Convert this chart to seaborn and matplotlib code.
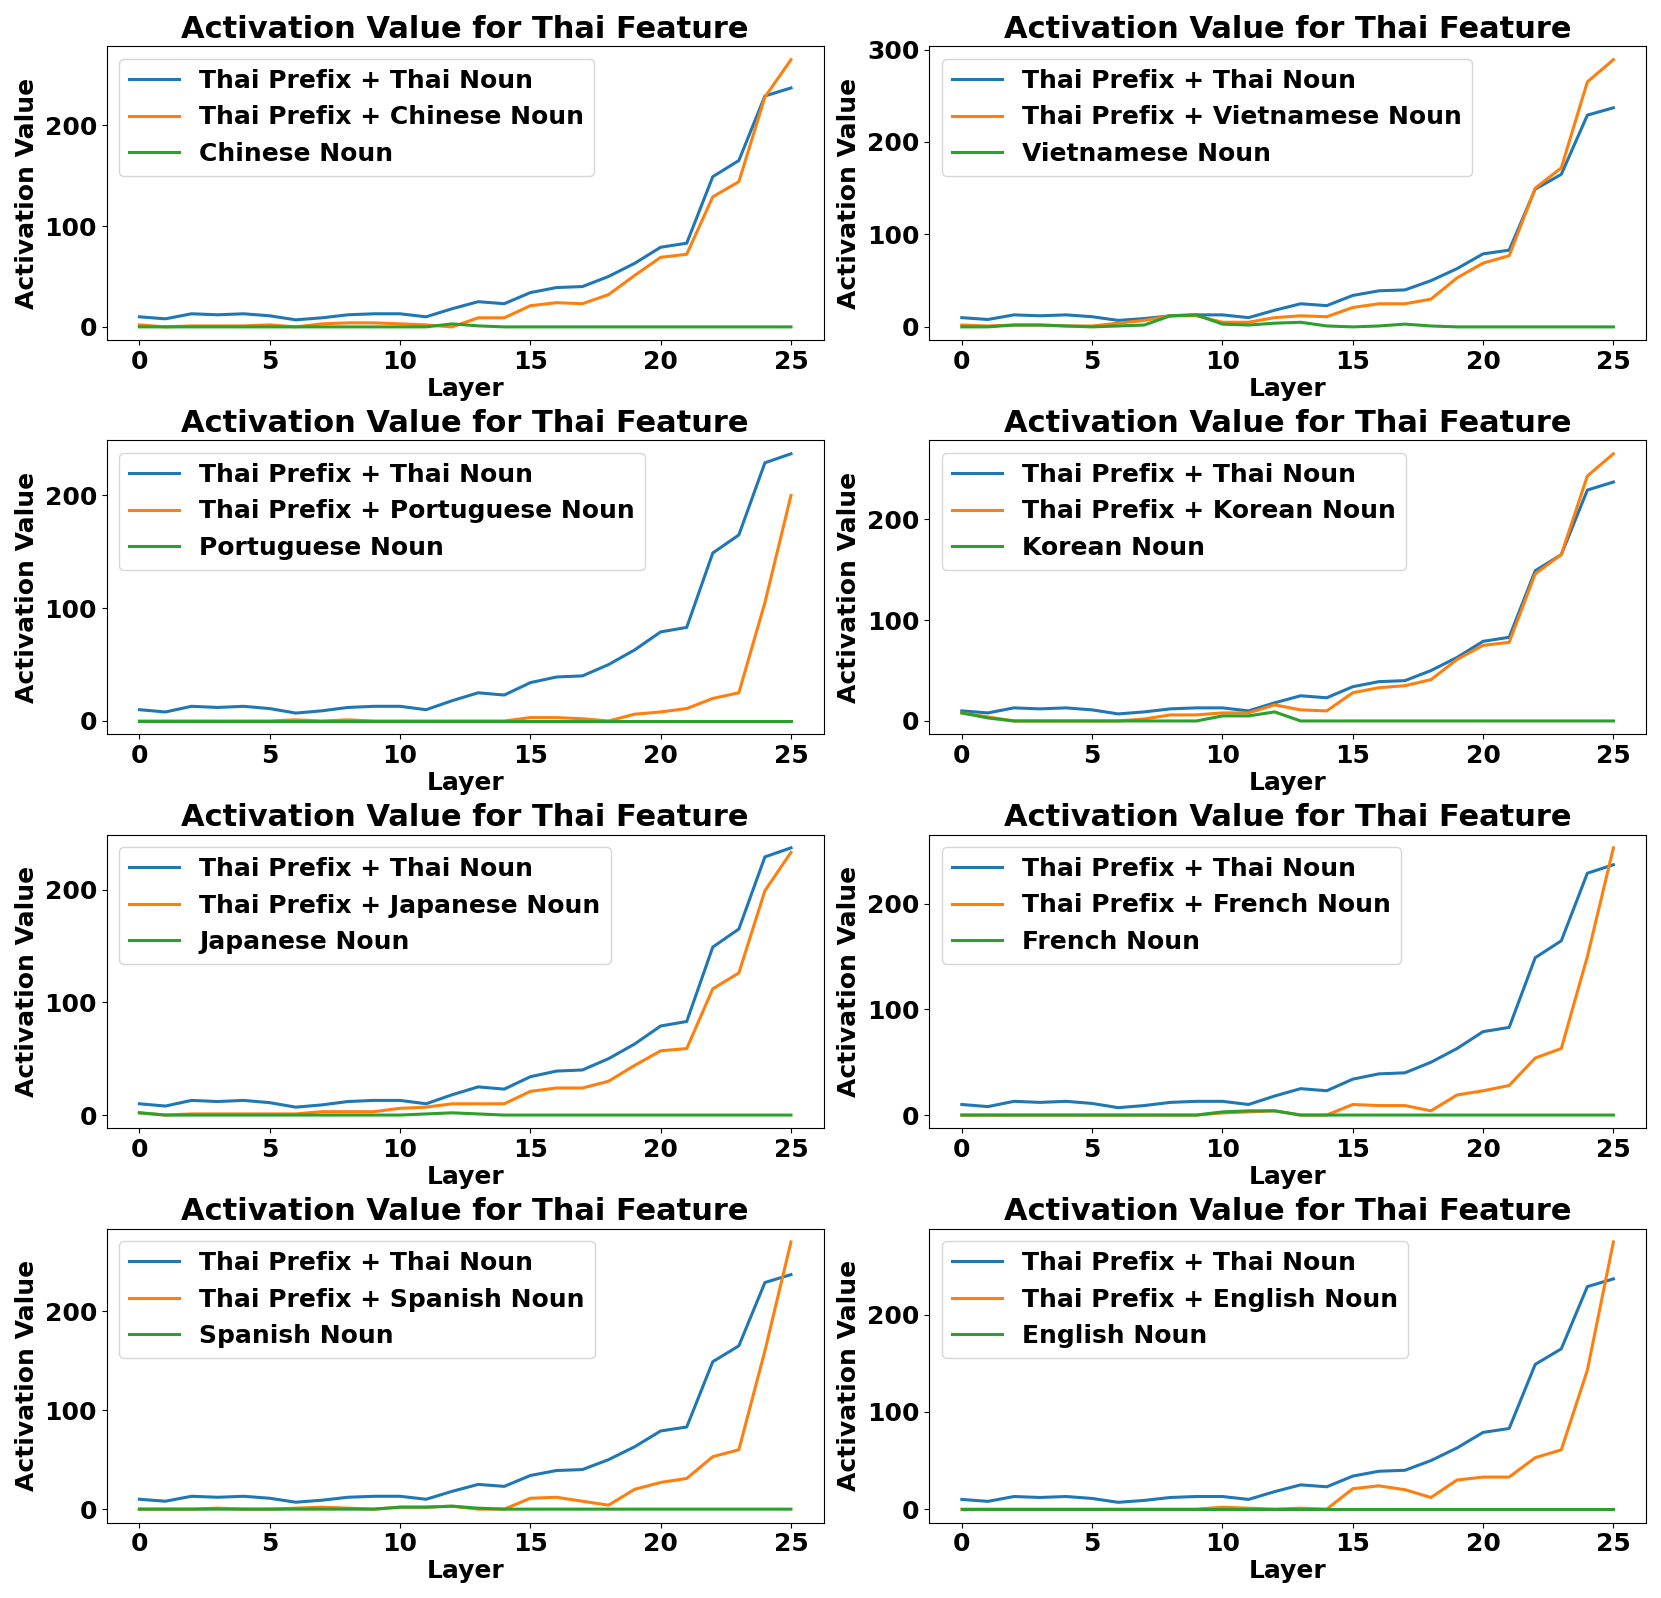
import numpy as np
import pandas as pd
import seaborn as sns
import matplotlib.pyplot as plt

# ============================================================
# DATA
# ============================================================

layers = list(range(26))

thai_noun = [10, 8, 13, 12, 13, 11, 7, 9, 12, 13, 13, 10, 18, 25, 23, 34,
             39, 40, 50, 63, 79, 83, 149, 165, 229, 237]

languages = ["Chinese", "Vietnamese", "Portuguese", "Korean",
             "Japanese", "French", "Spanish", "English"]

prefix_chinese = [2, 0, 1, 1, 1, 2, 0, 3, 4, 4, 3, 2, 0, 9, 9, 21,
                  24, 23, 32, 51, 69, 72, 129, 144, 228, 265]
noun_chinese = [0, 0, 0, 0, 0, 0, 0, 0, 0, 0, 0, 0, 3, 1, 0, 0,
                0, 0, 0, 0, 0, 0, 0, 0, 0, 0]

prefix_vietnamese = [2, 1, 2, 2, 1, 1, 4, 7, 12, 12, 5, 5, 10, 12, 11, 21,
                     25, 25, 30, 53, 69, 77, 150, 172, 265, 289]
noun_vietnamese = [0, 0, 2, 2, 1, 0, 1, 2, 12, 13, 3, 2, 4, 5, 1, 0,
                   1, 3, 1, 0, 0, 0, 0, 0, 0, 0]

prefix_portuguese = [0, 0, 0, 0, 0, 0, 1, 0, 1, 0, 0, 0, 0, 0, 0, 3,
                     3, 2, 0, 6, 8, 11, 20, 25, 105, 200]
noun_portuguese = [0] * 26

prefix_korean = [8, 4, 0, 0, 0, 0, 0, 2, 6, 6, 8, 8, 16, 11, 10, 28,
                 33, 35, 41, 61, 75, 78, 146, 165, 243, 265]
noun_korean = [8, 3, 0, 0, 0, 0, 0, 0, 0, 0, 5, 5, 9, 0, 0, 0,
               0, 0, 0, 0, 0, 0, 0, 0, 0, 0]

prefix_japanese = [2, 0, 1, 1, 1, 1, 1, 3, 3, 3, 6, 7, 10, 10, 10, 21,
                   24, 24, 30, 44, 57, 59, 112, 126, 199, 233]
noun_japanese = [2, 0, 0, 0, 0, 0, 0, 0, 0, 0, 0, 1, 2, 1, 0, 0,
                 0, 0, 0, 0, 0, 0, 0, 0, 0, 0]

prefix_french = [0, 0, 0, 0, 0, 0, 0, 0, 0, 0, 2, 3, 4, 0, 0, 10,
                 9, 9, 4, 19, 23, 28, 54, 63, 150, 253]
noun_french = [0, 0, 0, 0, 0, 0, 0, 0, 0, 0, 3, 4, 4, 0, 0, 0,
               0, 0, 0, 0, 0, 0, 0, 0, 0, 0]

prefix_spanish = [0, 0, 0, 1, 0, 0, 1, 2, 1, 0, 2, 2, 3, 0, 0, 11,
                  12, 8, 4, 20, 27, 31, 53, 60, 160, 270]
noun_spanish = [0, 0, 0, 0, 0, 0, 0, 0, 0, 0, 2, 2, 3, 1, 0, 0,
                0, 0, 0, 0, 0, 0, 0, 0, 0, 0]

prefix_english = [0, 0, 0, 0, 0, 0, 0, 0, 0, 0, 2, 1, 0, 1, 0, 21,
                  24, 20, 12, 30, 33, 33, 53, 61, 143, 275]
noun_english = [0] * 26

prefix_series = [prefix_chinese, prefix_vietnamese, prefix_portuguese, prefix_korean,
                 prefix_japanese, prefix_french, prefix_spanish, prefix_english]
noun_series = [noun_chinese, noun_vietnamese, noun_portuguese, noun_korean,
               noun_japanese, noun_french, noun_spanish, noun_english]

# ============================================================
# PLOT
# ============================================================

plt.rcParams["font.weight"] = "bold"
plt.rcParams["axes.labelweight"] = "bold"
plt.rcParams["axes.titleweight"] = "bold"
plt.rcParams["font.family"] = ["DejaVu Sans"]

palette = ["#1f77b4", "#ff7f0e", "#2ca02c"]

fig, axes = plt.subplots(4, 2, figsize=(16.61, 15.98), dpi=100)

for ax, lang, pref, noun in zip(axes.flat, languages, prefix_series, noun_series):
    labels = ["Thai Prefix + Thai Noun",
              f"Thai Prefix + {lang} Noun",
              f"{lang} Noun"]
    df = pd.DataFrame({
        "Layer": layers * 3,
        "value": thai_noun + pref + noun,
        "series": [labels[0]] * 26 + [labels[1]] * 26 + [labels[2]] * 26,
    })
    sns.lineplot(data=df, x="Layer", y="value", hue="series",
                 hue_order=labels, palette=palette, linewidth=2.2, ax=ax)
    ax.set_title("Activation Value for Thai Feature", fontsize=22)
    ax.set_xlabel("Layer", fontsize=18, labelpad=2)
    ax.set_ylabel("Activation Value", fontsize=18)
    ax.tick_params(labelsize=18)
    ax.yaxis.set_major_locator(plt.MultipleLocator(100))
    ax.legend(loc="upper left", fontsize=18, title=None)

plt.tight_layout(h_pad=0.6, w_pad=1.0)
plt.savefig("out.png", dpi=100)
